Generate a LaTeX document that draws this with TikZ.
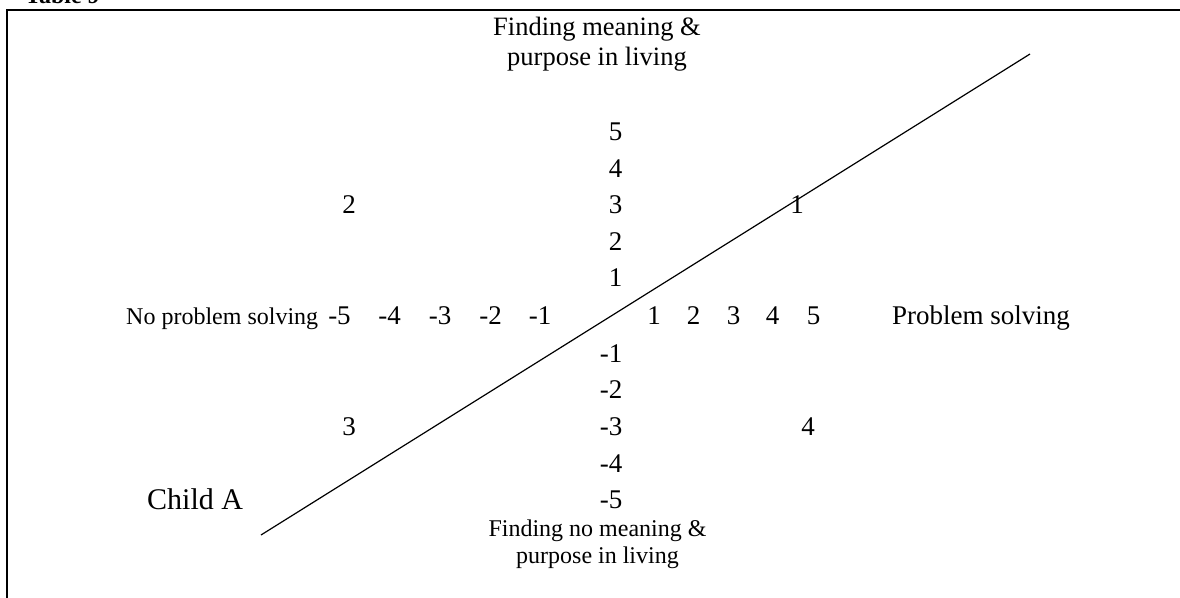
\documentclass[tikz,border=0pt]{standalone}
\usepackage{fontspec}
\setmainfont{Liberation Serif}
\tikzset{
  num/.style={font=\fontsize{27}{30}\selectfont, inner sep=0pt, anchor=base},
  vnum/.style={num, anchor=base east},
  sidelab/.style={inner sep=0pt, anchor=base west},
  endlab/.style={inner sep=0pt, align=center},
}
\begin{document}
\begin{tikzpicture}[x=1pt,y=-1pt]
\useasboundingbox (0,0) rectangle (1180,597);
\clip (0,0) rectangle (1180,597);
\node[sidelab, font=\bfseries\fontsize{24}{27}\selectfont] (title) at (25,4) {Table 9};
\draw[line width=2pt] (7,610) -- (7,10) -- (1190,10);
\node[endlab, font=\fontsize{26.5}{30}\selectfont] (top) at (597,44) {Finding meaning \&\\purpose in living};
\node[endlab, font=\fontsize{24}{27}\selectfont] (bottom) at (597.5,544) {Finding no meaning \&\\purpose in living};
\node[sidelab, font=\fontsize{24}{27}\selectfont] (left) at (126,324) {No problem solving};
\node[sidelab, font=\fontsize{27}{30}\selectfont] (right) at (892,324) {Problem solving};
\node[vnum] (v5) at (622.5,140) {5};
\node[vnum] (v4) at (622.5,177) {4};
\node[vnum] (v3) at (622.5,213) {3};
\node[vnum] (v2) at (622.5,250) {2};
\node[vnum] (v1) at (622.5,286) {1};
\node[vnum] (vm1) at (622.5,362) {-1};
\node[vnum] (vm2) at (622.5,398) {-2};
\node[vnum] (vm3) at (622.5,435) {-3};
\node[vnum] (vm4) at (622.5,472) {-4};
\node[vnum] (vm5) at (622.5,508) {-5};
\node[num] (hm5) at (339.5,324) {-5};
\node[num] (hm4) at (389.5,324) {-4};
\node[num] (hm3) at (440,324) {-3};
\node[num] (hm2) at (490.5,324) {-2};
\node[num] (hm1) at (540,324) {-1};
\node[num] (h1) at (654,324) {1};
\node[num] (h2) at (693.5,324) {2};
\node[num] (h3) at (733.5,324) {3};
\node[num] (h4) at (772.5,324) {4};
\node[num] (h5) at (813.5,324) {5};
\node[num] (q1) at (797,213) {1};
\node[num] (q2) at (349,213) {2};
\node[num] (q3) at (349,435) {3};
\node[num] (q4) at (808,435) {4};
\node[sidelab, font=\fontsize{30}{33}\selectfont] (child) at (147,509) {Child A};
\coordinate (lo) at (261,535);
\coordinate (hi) at (1030,54);
\draw[line width=1.2pt] (lo) -- (hi);
\end{tikzpicture}
\end{document}
